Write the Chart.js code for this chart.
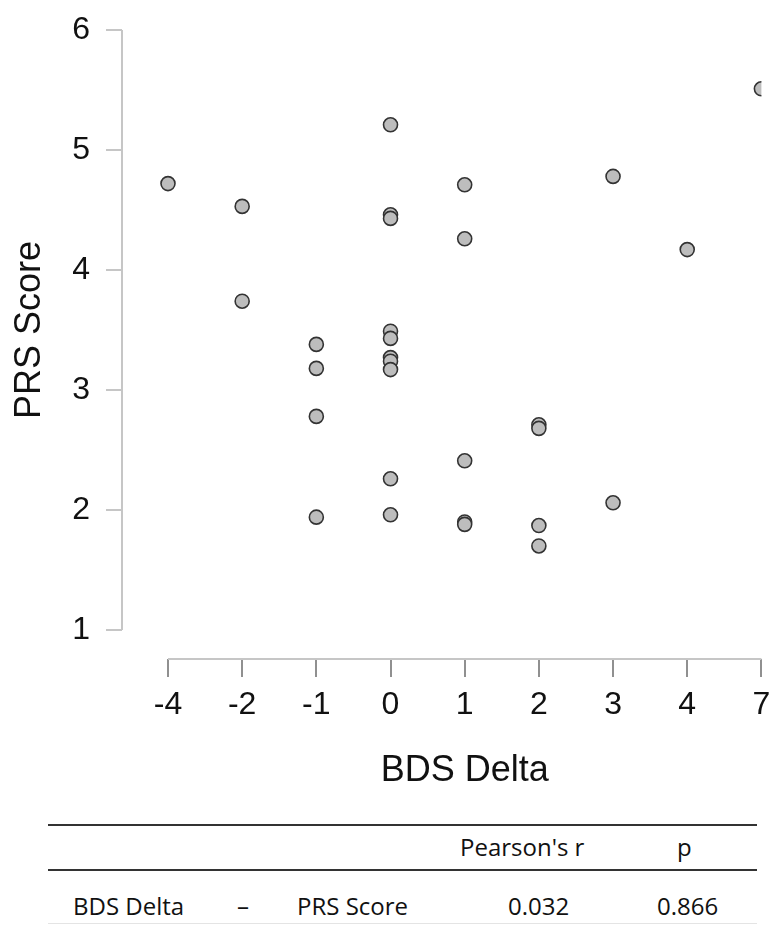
<!DOCTYPE html>
<html>
  <head>
    <meta charset="utf-8">
    <title>BDS Delta vs PRS Score</title>
    <script src="https://cdn.jsdelivr.net/npm/chart.js"></script>
    <style>
      body { margin: 0; background: #fff; font-family: "Open Sans", sans-serif; color: #111; }
      #wrap { position: absolute; left: 0; top: 0; width: 770px; height: 800px; }
      .rule { position: absolute; left: 48px; width: 709px; height: 2px; background: #333; }
      .cell { position: absolute; font-size: 24px; line-height: 30px; white-space: nowrap; }
    </style>
    <script>
	// x categories (BDS Delta) and the y ticks
	var xLabels = ['-4', '-2', '-1', '0', '1', '2', '3', '4', '7'];
	var yTicks = [1, 2, 3, 4, 5, 6];

	// one entry per subject
	var bdsDelta = ['-4',
		'-2', '-2',
		'-1', '-1', '-1', '-1',
		'0', '0', '0', '0', '0', '0', '0', '0', '0', '0',
		'1', '1', '1', '1', '1',
		'2', '2', '2', '2',
		'3', '3',
		'4',
		'7'];
	var prsScore = [4.72,
		4.53, 3.74,
		3.38, 3.18, 2.78, 1.94,
		5.21, 4.46, 4.43, 3.49, 3.43, 3.27, 3.24, 3.17, 2.26, 1.96,
		4.71, 4.26, 2.41, 1.90, 1.88,
		2.71, 2.68, 1.87, 1.70,
		4.78, 2.06,
		4.17,
		5.51];

	var xTitle = 'BDS Delta';
	var yTitle = 'PRS Score';
	var pearsonR = '0.032';
	var pValue = '0.866';
    </script>
  </head>
  <body>
	<div id="wrap"><canvas id="scatter"></canvas></div>

	<div class="rule" style="top:824px"></div>
	<div class="cell" style="left:460px; top:832px">Pearson's r</div>
	<div class="cell" style="left:677px; top:832px">p</div>
	<div class="rule" style="top:869px"></div>
	<div class="cell" style="left:73px; top:891px" id="v1"></div>
	<div class="cell" style="left:237px; top:891px">–</div>
	<div class="cell" style="left:297px; top:891px" id="v2"></div>
	<div class="cell" style="left:508px; top:891px" id="r"></div>
	<div class="cell" style="left:657px; top:891px" id="p"></div>
	<div style="position:absolute; left:48px; top:923px; width:709px; height:1px; background:#e4e4e4"></div>

	<script>
	document.getElementById('v1').textContent = xTitle;
	document.getElementById('v2').textContent = yTitle;
	document.getElementById('r').textContent = pearsonR;
	document.getElementById('p').textContent = pValue;

	var points = bdsDelta.map(function(d, i) {
		return { x: xLabels.indexOf(d), y: prsScore[i] };
	});

	// detached axis lines + axis titles
	const axisDecor = {
		id: 'axisDecor',
		afterDraw(chart) {
			const ctx = chart.ctx, area = chart.chartArea;
			const x = chart.scales.x, y = chart.scales.y;
			const x0 = x.getPixelForValue(0), x1 = x.getPixelForValue(xLabels.length - 1);
			ctx.save();
			ctx.strokeStyle = '#c6c6c6';
			ctx.lineWidth = 2;
			ctx.beginPath();
			ctx.moveTo(area.left, y.getPixelForValue(yTicks[0]));
			ctx.lineTo(area.left, y.getPixelForValue(yTicks[yTicks.length - 1]));
			ctx.moveTo(x0, area.bottom);
			ctx.lineTo(x1, area.bottom);
			ctx.stroke();

			ctx.fillStyle = '#111';
			ctx.font = '36px "Liberation Sans", Arial, sans-serif';
			ctx.textAlign = 'center';
			ctx.textBaseline = 'middle';
			ctx.fillText(xTitle, (x0 + x1) / 2, area.bottom + 112);
			ctx.translate(30, (y.getPixelForValue(yTicks[0]) + y.getPixelForValue(yTicks[yTicks.length - 1])) / 2);
			ctx.rotate(-Math.PI / 2);
			ctx.fillText(yTitle, 0, 0);
			ctx.restore();
		}
	};

	const tickFont = { family: '"Liberation Sans", Arial, sans-serif', size: 32 };

	new Chart(document.getElementById('scatter'), {
		type: 'scatter',
		data: {
			datasets: [{
				label: 'PRS Score',
				data: points,
				backgroundColor: '#bdbdbd',
				borderColor: '#333',
				borderWidth: 1.6,
				pointRadius: 7,
				pointHoverRadius: 7
			}]
		},
		options: {
			responsive: true,
			maintainAspectRatio: false,
			animation: false,
			layout: { padding: { top: 30, right: 8, left: 0, bottom: 0 } },
			plugins: { legend: { display: false }, tooltip: { enabled: false } },
			scales: {
				x: {
					type: 'linear',
					min: -0.62,
					max: xLabels.length - 1,
					afterBuildTicks: function(s) {
						s.ticks = xLabels.map(function(l, i) { return { value: i }; });
					},
					afterFit: function(s) { s.height = 141; s.paddingLeft = 0; s.paddingRight = 0; },
					border: { display: false },
					grid: { drawOnChartArea: false, drawTicks: true, tickLength: 18, color: '#909090', lineWidth: 2 },
					ticks: {
						font: tickFont, color: '#111', padding: 9, maxRotation: 0, autoSkip: false,
						callback: function(v) { return xLabels[v]; }
					}
				},
				y: {
					min: 0.758,
					max: 6,
					afterBuildTicks: function(s) {
						s.ticks = yTicks.map(function(v) { return { value: v }; });
					},
					afterFit: function(s) { s.width = 122; s.paddingTop = 0; s.paddingBottom = 0; },
					border: { display: false },
					grid: { drawOnChartArea: false, drawTicks: true, tickLength: 16, color: '#c6c6c6', lineWidth: 2 },
					ticks: { font: tickFont, color: '#111', padding: 16 }
				}
			}
		},
		plugins: [axisDecor]
	});
	</script>
  </body>
</html>
